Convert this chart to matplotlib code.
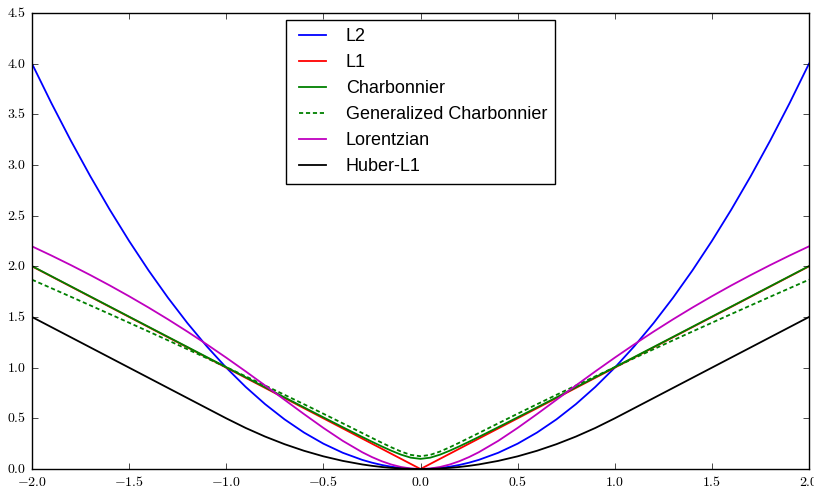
import matplotlib
matplotlib.use("Agg")
import matplotlib.pyplot as plt

# sample points on the right half (curves are symmetric about x = 0)
x_half = [0.0, 0.05, 0.1, 0.15, 0.2, 0.25, 0.3, 0.4, 0.5, 0.6, 0.7, 0.8, 0.9,
          1.0, 1.1, 1.2, 1.3, 1.4, 1.5, 1.6, 1.7, 1.8, 1.9, 2.0]

l2 = [0.0, 0.0025, 0.01, 0.0225, 0.04, 0.0625, 0.09, 0.16, 0.25, 0.36, 0.49,
      0.64, 0.81, 1.0, 1.21, 1.44, 1.69, 1.96, 2.25, 2.56, 2.89, 3.24, 3.61, 4.0]
l1 = [0.0, 0.05, 0.1, 0.15, 0.2, 0.25, 0.3, 0.4, 0.5, 0.6, 0.7, 0.8, 0.9,
      1.0, 1.1, 1.2, 1.3, 1.4, 1.5, 1.6, 1.7, 1.8, 1.9, 2.0]
charbonnier = [0.1, 0.1118, 0.1414, 0.1803, 0.2236, 0.2693, 0.3162, 0.4123,
               0.5099, 0.6083, 0.7071, 0.8062, 0.9055, 1.0050, 1.1045, 1.2042,
               1.3038, 1.4036, 1.5033, 1.6031, 1.7029, 1.8028, 1.9026, 2.0025]
gen_charbonnier = [0.1259, 0.1392, 0.1720, 0.2139, 0.2598, 0.3070, 0.3548,
                   0.4505, 0.5454, 0.6393, 0.7320, 0.8238, 0.9145, 1.0045,
                   1.0936, 1.1820, 1.2697, 1.3568, 1.4433, 1.5292, 1.6146,
                   1.6996, 1.7841, 1.8682]
lorentzian = [0.0, 0.0050, 0.0198, 0.0440, 0.0770, 0.1178, 0.1655, 0.2776,
              0.4055, 0.5423, 0.6831, 0.8242, 0.9632, 1.0986, 1.2296, 1.3558,
              1.4770, 1.5933, 1.7047, 1.8116, 1.9140, 2.0122, 2.1066, 2.1972]
huber = [0.0, 0.00125, 0.005, 0.01125, 0.02, 0.03125, 0.045, 0.08, 0.125, 0.18,
         0.245, 0.32, 0.405, 0.5, 0.6, 0.7, 0.8, 0.9, 1.0, 1.1, 1.2, 1.3, 1.4, 1.5]

labels = ["L2", "L1", "Charbonnier", "Generalized Charbonnier", "Lorentzian", "Huber-L1"]
series = [l2, l1, charbonnier, gen_charbonnier, lorentzian, huber]
colors = ["b", "r", "g", "g", "m", "k"]


def mirror(vals):
    return vals[:0:-1] + vals


x = [-v for v in x_half[:0:-1]] + x_half

plt.style.use("classic")
plt.rcParams["mathtext.fontset"] = "cm"
plt.rcParams["axes.formatter.use_mathtext"] = True

fig = plt.figure(figsize=(8.14, 4.87), dpi=100, facecolor="white")
ax = fig.add_axes([32 / 814, 18 / 487, 777 / 814, 456 / 487])

for vals, c, lab in zip(series, colors, labels):
    line, = ax.plot(x, mirror(vals), color=c, lw=1.3, label=lab)
    if lab == "Generalized Charbonnier":
        line.set_dashes((3, 2))

ax.set_xlim(-2, 2)
ax.set_ylim(0, 4.5)
ax.set_xticks([-2.0, -1.5, -1.0, -0.5, 0.0, 0.5, 1.0, 1.5, 2.0])
ax.set_yticks([0.0, 0.5, 1.0, 1.5, 2.0, 2.5, 3.0, 3.5, 4.0, 4.5])
ax.set_xticklabels(["$%.1f$" % v for v in ax.get_xticks()])
ax.set_yticklabels(["$%.1f$" % v for v in ax.get_yticks()])
ax.tick_params(labelsize=10, direction="in", length=4, pad=4)

ax.legend(loc="upper center", prop={"family": "Liberation Sans", "size": 13},
          handlelength=2.1, handletextpad=0.8, labelspacing=0.5,
          borderpad=0.45, borderaxespad=0.4, fancybox=False, frameon=True)

fig.savefig("out.png", dpi=100)
